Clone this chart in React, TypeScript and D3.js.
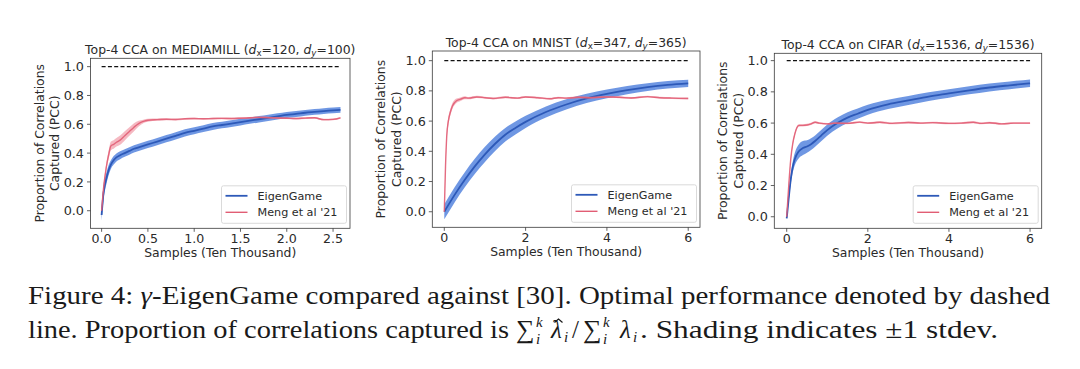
import React from 'react';
import * as d3 from 'd3';

// MEDIAMILL
const mmEigX = [0, 0.02, 0.05, 0.08, 0.1, 0.13, 0.16, 0.2, 0.25, 0.3, 0.35, 0.4, 0.45, 0.5, 0.6, 0.7, 0.8, 0.9, 1.0, 1.1, 1.2, 1.3, 1.4, 1.5, 1.6, 1.7, 1.8, 1.9, 2.0, 2.1, 2.2, 2.3, 2.4, 2.5, 2.58];
const mmEigMean = [-0.03, 0.12, 0.22, 0.29, 0.32, 0.35, 0.37, 0.385, 0.4, 0.415, 0.43, 0.44, 0.45, 0.46, 0.48, 0.5, 0.52, 0.54, 0.555, 0.57, 0.585, 0.595, 0.605, 0.615, 0.625, 0.635, 0.645, 0.655, 0.665, 0.672, 0.68, 0.686, 0.692, 0.697, 0.7];
const mmEigStd = [0.04, 0.05, 0.04, 0.035, 0.03, 0.03, 0.028, 0.027, 0.026, 0.026, 0.025, 0.025, 0.025, 0.025, 0.025, 0.025, 0.025, 0.025, 0.024, 0.024, 0.024, 0.023, 0.023, 0.023, 0.022, 0.022, 0.022, 0.021, 0.021, 0.021, 0.02, 0.02, 0.02, 0.02, 0.02];
const mmMengX = [0, 0.02, 0.05, 0.08, 0.1, 0.13, 0.16, 0.2, 0.25, 0.3, 0.35, 0.4, 0.45, 0.5, 0.6, 0.7, 0.8, 0.9, 1.0, 1.1, 1.2, 1.3, 1.4, 1.5, 1.6, 1.7, 1.8, 1.9, 2.0, 2.1, 2.2, 2.3, 2.4, 2.5, 2.58];
const mmMengMean = [0.0, 0.15, 0.3, 0.4, 0.45, 0.46, 0.475, 0.49, 0.52, 0.55, 0.58, 0.605, 0.62, 0.628, 0.632, 0.635, 0.633, 0.638, 0.64, 0.638, 0.64, 0.641, 0.64, 0.642, 0.645, 0.648, 0.646, 0.644, 0.642, 0.64, 0.643, 0.645, 0.632, 0.634, 0.645];
const mmMengStd = [0.01, 0.02, 0.025, 0.03, 0.03, 0.03, 0.03, 0.032, 0.032, 0.03, 0.028, 0.02, 0.012, 0.01, 0.008, 0.007, 0.007, 0.006, 0.006, 0.006, 0.006, 0.006, 0.006, 0.006, 0.006, 0.006, 0.006, 0.006, 0.006, 0.006, 0.006, 0.006, 0.006, 0.006, 0.006];

// MNIST
const mnEigX = [0, 0.25, 0.5, 0.75, 1, 1.25, 1.5, 1.75, 2, 2.5, 3, 3.5, 4, 4.5, 5, 5.5, 6];
const mnEigMean = [0.0, 0.11, 0.21, 0.3, 0.38, 0.45, 0.51, 0.555, 0.595, 0.66, 0.71, 0.75, 0.78, 0.805, 0.825, 0.84, 0.85];
const mnEigStd = [0.05, 0.05, 0.05, 0.05, 0.05, 0.048, 0.045, 0.043, 0.04, 0.037, 0.034, 0.031, 0.029, 0.027, 0.026, 0.025, 0.024];
const mnMengX = [0, 0.03, 0.06, 0.1, 0.15, 0.2, 0.3, 0.4, 0.5, 0.6, 0.8, 1.0, 1.2, 1.5, 1.8, 2.0, 2.3, 2.6, 2.8, 3.0, 3.3, 3.6, 4.0, 4.3, 4.6, 5.0, 5.3, 5.6, 6.0];
const mnMengMean = [0.0, 0.3, 0.5, 0.6, 0.66, 0.7, 0.735, 0.745, 0.755, 0.752, 0.76, 0.755, 0.75, 0.758, 0.752, 0.76, 0.755, 0.748, 0.755, 0.752, 0.758, 0.755, 0.76, 0.758, 0.753, 0.762, 0.755, 0.752, 0.75];
const mnMengStd = [0.01, 0.03, 0.03, 0.025, 0.02, 0.02, 0.015, 0.012, 0.01, 0.008, 0.007, 0.006, 0.006, 0.006, 0.006, 0.006, 0.006, 0.006, 0.006, 0.006, 0.006, 0.006, 0.006, 0.006, 0.006, 0.006, 0.006, 0.006, 0.006];

// CIFAR
const cfEigX = [0, 0.05, 0.1, 0.15, 0.2, 0.3, 0.4, 0.5, 0.6, 0.7, 0.85, 1.0, 1.25, 1.5, 1.75, 2.0, 2.5, 3.0, 3.5, 4.0, 4.5, 5.0, 5.5, 6.0];
const cfEigMean = [-0.01, 0.12, 0.24, 0.32, 0.37, 0.42, 0.44, 0.45, 0.465, 0.485, 0.52, 0.555, 0.6, 0.635, 0.66, 0.685, 0.72, 0.745, 0.77, 0.79, 0.81, 0.828, 0.842, 0.855];
const cfEigStd = [0.01, 0.02, 0.03, 0.035, 0.04, 0.045, 0.045, 0.04, 0.038, 0.036, 0.036, 0.036, 0.035, 0.034, 0.033, 0.032, 0.03, 0.029, 0.028, 0.027, 0.026, 0.025, 0.025, 0.024];
const cfMengX = [0, 0.05, 0.1, 0.15, 0.2, 0.25, 0.3, 0.4, 0.5, 0.6, 0.7, 0.8, 1.0, 1.2, 1.5, 1.8, 2.0, 2.3, 2.6, 3.0, 3.3, 3.6, 4.0, 4.3, 4.6, 4.8, 5.0, 5.3, 5.6, 6.0];
const cfMengMean = [0.0, 0.2, 0.37, 0.47, 0.53, 0.57, 0.585, 0.585, 0.588, 0.595, 0.605, 0.6, 0.595, 0.6, 0.598, 0.606, 0.6, 0.605, 0.598, 0.604, 0.6, 0.603, 0.598, 0.6, 0.605, 0.598, 0.602, 0.595, 0.6, 0.6];
const cfMengStd = [0.005, 0.01, 0.015, 0.015, 0.012, 0.01, 0.008, 0.007, 0.007, 0.007, 0.006, 0.006, 0.006, 0.006, 0.006, 0.006, 0.006, 0.006, 0.006, 0.006, 0.006, 0.006, 0.006, 0.006, 0.006, 0.006, 0.006, 0.006, 0.006, 0.006];

const yTicks = [0, 0.2, 0.4, 0.6, 0.8, 1.0];
const mmXTicks = [0, 0.5, 1.0, 1.5, 2.0, 2.5];
const bigXTicks = [0, 2, 4, 6];
const legendLabels = ['EigenGame', "Meng et al '21"];

const BLUE_LINE = '#2d59b8';
const BLUE_BAND = '#3f74da';
const RED_LINE = '#e15d74';
const RED_BAND = '#ec7f90';
const TXT = '#2a2a2a';
const FONT = 'DejaVu Sans, sans-serif';

type Series = { x: number[]; mean: number[]; std: number[] };

const panels = [
  {
    name: 'MEDIAMILL', dx: '120', dy: '100',
    box: { l: 90.5, r: 350, t: 58.3, b: 228.3 },
    xlim: [-0.12, 2.683], ylim: [-0.122, 1.058],
    xTicks: mmXTicks, fmt: d3.format('.1f'), xmax: 2.58,
    eig: { x: mmEigX, mean: mmEigMean, std: mmEigStd },
    meng: { x: mmMengX, mean: mmMengMean, std: mmMengStd },
  },
  {
    name: 'MNIST', dx: '347', dy: '365',
    box: { l: 432.3, r: 700, t: 51, b: 227.3 },
    xlim: [-0.295, 6.29], ylim: [-0.103, 1.064],
    xTicks: bigXTicks, fmt: d3.format('d'), xmax: 6,
    eig: { x: mnEigX, mean: mnEigMean, std: mnEigStd },
    meng: { x: mnMengX, mean: mnMengMean, std: mnMengStd },
  },
  {
    name: 'CIFAR', dx: '1536', dy: '1536',
    box: { l: 774.3, r: 1041.7, t: 53.3, b: 228.3 },
    xlim: [-0.306, 6.287], ylim: [-0.074, 1.047],
    xTicks: bigXTicks, fmt: d3.format('d'), xmax: 6,
    eig: { x: cfEigX, mean: cfEigMean, std: cfEigStd },
    meng: { x: cfMengX, mean: cfMengMean, std: cfMengStd },
  },
];

function Panel({ p }: { p: typeof panels[number] }) {
  const { box } = p;
  const x = d3.scaleLinear().domain(p.xlim).range([box.l, box.r]);
  const y = d3.scaleLinear().domain(p.ylim).range([box.b, box.t]);

  const band = (s: Series) =>
    d3.area<number>()
      .x((_, i) => x(s.x[i]))
      .y0((_, i) => y(s.mean[i] - s.std[i]))
      .y1((_, i) => y(s.mean[i] + s.std[i]))
      .curve(d3.curveMonotoneX)(s.mean) || '';
  const line = (s: Series) =>
    d3.line<number>()
      .x((_, i) => x(s.x[i]))
      .y((d) => y(d))
      .curve(d3.curveMonotoneX)(s.mean) || '';

  const cx = (box.l + box.r) / 2;
  const cy = (box.t + box.b) / 2;
  const lw = 125, lh = 37.5;
  const lx = box.r - 3.5 - lw, ly = box.b - 5 - lh;

  return (
    <g>
      <text x={cx} y={box.t - 4.5} textAnchor="middle" fontSize={12.4} fill={TXT} fontFamily={FONT}>
        {`Top-4 CCA on ${p.name} (`}
        <tspan fontStyle="italic">d</tspan>
        <tspan fontSize={8.7} dy={2.5}>x</tspan>
        <tspan dy={-2.5}>{`=${p.dx}, `}</tspan>
        <tspan fontStyle="italic">d</tspan>
        <tspan fontSize={8.7} dy={2.5} fontStyle="italic">y</tspan>
        <tspan dy={-2.5}>{`=${p.dy})`}</tspan>
      </text>

      <path d={band(p.eig)} fill={BLUE_BAND} fillOpacity={0.75} />
      <path d={line(p.eig)} fill="none" stroke={BLUE_LINE} strokeWidth={1.8} />
      <path d={band(p.meng)} fill={RED_BAND} fillOpacity={0.55} />
      <path d={line(p.meng)} fill="none" stroke={RED_LINE} strokeWidth={1.4} strokeOpacity={0.9} />

      <line x1={x(0)} x2={x(p.xmax)} y1={y(1)} y2={y(1)} stroke="#111" strokeWidth={1.3} strokeDasharray="4,2.3" />

      <rect x={box.l} y={box.t} width={box.r - box.l} height={box.b - box.t} fill="none" stroke="#3a3a3a" strokeWidth={0.8} />

      {yTicks.map((t) => (
        <g key={'y' + t}>
          <line x1={box.l - 3.5} x2={box.l} y1={y(t)} y2={y(t)} stroke="#3a3a3a" strokeWidth={0.8} />
          <text x={box.l - 6.5} y={y(t) + 4.6} textAnchor="end" fontSize={12.8} fill={TXT} fontFamily={FONT}>
            {d3.format('.1f')(t)}
          </text>
        </g>
      ))}
      {p.xTicks.map((t) => (
        <g key={'x' + t}>
          <line x1={x(t)} x2={x(t)} y1={box.b} y2={box.b + 3.5} stroke="#3a3a3a" strokeWidth={0.8} />
          <text x={x(t)} y={box.b + 15} textAnchor="middle" fontSize={12.6} fill={TXT} fontFamily={FONT}>
            {p.fmt(t)}
          </text>
        </g>
      ))}

      <text x={cx} y={box.b + 28.5} textAnchor="middle" fontSize={12.4} fill={TXT} fontFamily={FONT}>
        Samples (Ten Thousand)
      </text>
      <text transform={`translate(${box.l - 47},${cy}) rotate(-90)`} textAnchor="middle" fontSize={12.4} fill={TXT} fontFamily={FONT}>
        Proportion of Correlations
      </text>
      <text transform={`translate(${box.l - 31.5},${cy}) rotate(-90)`} textAnchor="middle" fontSize={12.4} fill={TXT} fontFamily={FONT}>
        Captured (PCC)
      </text>

      <rect x={lx} y={ly} width={lw} height={lh} rx={2} fill="white" fillOpacity={0.85} stroke="#d0d0d0" strokeWidth={0.8} />
      {legendLabels.map((lab, i) => (
        <g key={lab}>
          <line x1={lx + 4} x2={lx + 26} y1={ly + 10 + i * 16.5} y2={ly + 10 + i * 16.5}
            stroke={i === 0 ? BLUE_LINE : RED_LINE} strokeWidth={i === 0 ? 1.8 : 1.4} />
          <text x={lx + 36} y={ly + 14 + i * 16.5} fontSize={11.2} fill={TXT} fontFamily={FONT}>{lab}</text>
        </g>
      ))}
    </g>
  );
}

const SERIF = 'Liberation Serif, serif';
const CAP = '#1a1a1a';

function SumSym({ x, y }: { x: number; y: number }) {
  return (
    <g fontFamily={SERIF} fill={CAP}>
      <text x={x} y={y} fontSize={26}>∑</text>
      <text x={x + 20} y={y - 11} fontSize={15} fontStyle="italic">k</text>
      <text x={x + 20} y={y + 6} fontSize={15} fontStyle="italic">i</text>
    </g>
  );
}

export default function App() {
  return (
    <svg width={1080} height={369} style={{ position: 'absolute', left: 0, top: 0, background: 'white' }}>
      <rect width={1080} height={369} fill="white" />
      {panels.map((p) => <Panel key={p.name} p={p} />)}
      <text x={28} y={304} fontSize={26} fill={CAP} fontFamily={SERIF} textLength={1022} lengthAdjust="spacingAndGlyphs">
        Figure 4: <tspan fontStyle="italic">γ</tspan>-EigenGame compared against [30].  Optimal performance denoted by dashed
      </text>
      <text x={28} y={338} fontSize={26} fill={CAP} fontFamily={SERIF} textLength={481} lengthAdjust="spacingAndGlyphs">
        line. Proportion of correlations captured is
      </text>
      <SumSym x={516} y={338} />
      <g fontFamily={SERIF} fill={CAP}>
        <text x={551} y={338} fontSize={25} fontStyle="italic">λ</text>
        <path d="M554.5,322.5 L558.5,319 L562.5,322.5" fill="none" stroke={CAP} strokeWidth={1.2} />
        <text x={564} y={342} fontSize={15} fontStyle="italic">i</text>
        <text x={572} y={338} fontSize={25}>/</text>
      </g>
      <SumSym x={583} y={338} />
      <g fontFamily={SERIF} fill={CAP}>
        <text x={620} y={338} fontSize={25} fontStyle="italic">λ</text>
        <text x={633} y={342} fontSize={15} fontStyle="italic">i</text>
      </g>
      <text x={640} y={338} fontSize={26} fill={CAP} fontFamily={SERIF} textLength={358} lengthAdjust="spacingAndGlyphs">
        . Shading indicates ±1 stdev.
      </text>
    </svg>
  );
}
